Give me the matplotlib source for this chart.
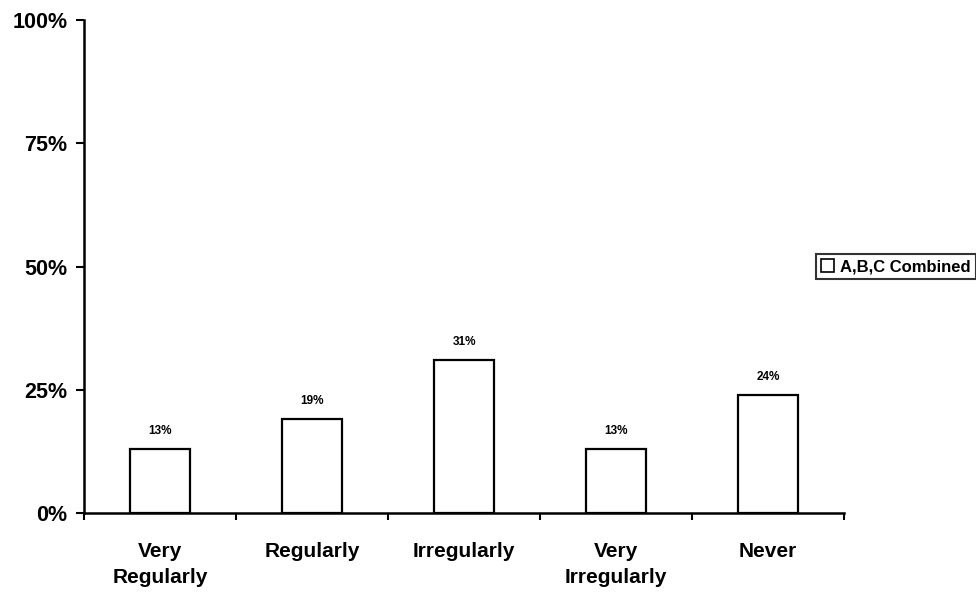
import matplotlib
matplotlib.use("Agg")
import matplotlib.pyplot as plt
from matplotlib.patches import Patch

categories = ["Very\nRegularly", "Regularly", "Irregularly", "Very\nIrregularly", "Never"]
values = [13, 19, 31, 13, 24]
series_name = "A,B,C Combined"
y_ticks = [0, 25, 50, 75, 100]
y_tick_labels = ["0%", "25%", "50%", "75%", "100%"]

plt.rcParams["font.family"] = ["Liberation Sans", "DejaVu Sans"]
plt.rcParams["font.weight"] = "bold"

fig = plt.figure(figsize=(9.76, 5.96), dpi=100)
ax = fig.add_axes([0.0861, 0.1393, 0.7787, 0.8271])

x = list(range(len(categories)))
bars = ax.bar(x, values, width=0.4, color="white", edgecolor="black", linewidth=1.6)

for xi, v in zip(x, values):
    ax.annotate(f"{v}%", xy=(xi, v), xytext=(0, 13), textcoords="offset points",
                ha="center", va="center", fontsize=8.5, fontweight="bold")

ax.set_xlim(-0.5, len(categories) - 0.5)
ax.set_ylim(0, 100)
ax.set_yticks(y_ticks)
ax.set_yticklabels(y_tick_labels, fontsize=15.5, fontweight="bold")

# category labels centred between boundary ticks
ax.set_xticks([i + 0.5 for i in range(-1, len(categories))])
ax.set_xticklabels([])
ax.set_xticks(x, minor=True)
ax.set_xticklabels(categories, minor=True, fontsize=15, fontweight="bold",
                   va="top", linespacing=1.45)
ax.tick_params(axis="x", which="minor", length=0, pad=21)
ax.tick_params(axis="x", which="major", direction="out", length=5, width=1.5)
ax.tick_params(axis="y", direction="out", length=6, width=1.5, pad=6)

for side in ("top", "right"):
    ax.spines[side].set_visible(False)
for side in ("left", "bottom"):
    ax.spines[side].set_linewidth(1.8)

leg = ax.legend(handles=[Patch(facecolor="white", edgecolor="black", linewidth=1.2, label=series_name)],
                loc="center left", bbox_to_anchor=(0.963, 0.5),
                frameon=True, fancybox=False, handlelength=0.8, handleheight=0.8,
                handletextpad=0.35, borderpad=0.3, borderaxespad=0.0,
                prop={"weight": "bold", "size": 12})
leg.get_frame().set_edgecolor("black")
leg.get_frame().set_linewidth(1.5)

fig.savefig("out.png", dpi=100)
